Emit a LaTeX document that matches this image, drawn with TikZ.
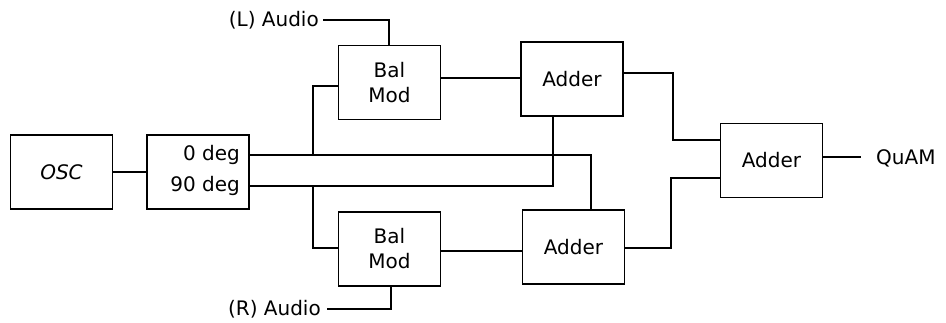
\documentclass[tikz,border=0pt]{standalone}
\usepackage{fontspec}
\setmainfont{DejaVu Sans}
\begin{document}
\begin{tikzpicture}[x=1pt,y=-1pt,
  blk/.style={draw,line width=1.8pt,minimum width=102pt,minimum height=74pt,inner sep=0pt,align=center,font=\fontsize{20}{25}\selectfont},
  lbl/.style={inner sep=0pt,font=\fontsize{20}{25}\selectfont},
  wire/.style={line width=1.8pt}]
\useasboundingbox (0,0) rectangle (946,322);
\node[blk] (osc) at (61.5,172) {\itshape OSC};
\node[blk] (split) at (198,172) {};
\node[lbl,anchor=east] (s0) at (240,155) {0 deg};
\node[lbl,anchor=east] (s90) at (240,186) {90 deg};
\node[blk] (balT) at (389.5,82.5) {Bal\\Mod};
\node[blk] (balB) at (389.5,249) {Bal\\Mod};
\node[blk] (addT) at (572,79) {Adder};
\node[blk] (addB) at (573.5,247) {Adder};
\node[blk] (addF) at (771.5,160.5) {Adder};
\node[lbl,anchor=east] (la) at (319,20) {(L) Audio};
\node[lbl,anchor=east] (ra) at (321,309) {(R) Audio};
\node[lbl,anchor=west] (q) at (876,158) {QuAM};
\coordinate (j0) at (313,155);
\coordinate (j90) at (313,186);
\coordinate (t0) at (591,155);
\coordinate (t90) at (553,186);
\coordinate (oT) at (673,73);
\coordinate (oB) at (671,248);
\coordinate (inT) at (389,20);
\coordinate (inB) at (391,309);
% OSC to splitter
\draw[wire] (osc.east) -- (split.west);
% 0 deg
\draw[wire] (split.east|-s0) -- (t0) -- (t0|-addB.north);
\draw[wire] (j0) |- (balT.west|-0,86);
% 90 deg
\draw[wire] (split.east|-s90) -- (t90) -- (t90|-addT.south);
\draw[wire] (j90) |- (balB.west|-0,248);
% audio
\draw[wire] ([xshift=4pt]la.east) -- (inT) -- (inT|-balT.north);
\draw[wire] ([xshift=6pt]ra.east) -- (inB) -- (inB|-balB.south);
% mod to adders
\draw[wire] (balT.east|-0,78) -- (addT.west|-0,78);
\draw[wire] (balB.east|-0,251) -- (addB.west|-0,251);
% adders to final
\draw[wire] (addT.east|-oT) -- (oT) |- (addF.west|-0,140);
\draw[wire] (addB.east|-oB) -- (oB) |- (addF.west|-0,178);
\draw[wire] (addF.east|-0,157) -- ([xshift=-15pt]q.west|-0,157);
\end{tikzpicture}
\end{document}
